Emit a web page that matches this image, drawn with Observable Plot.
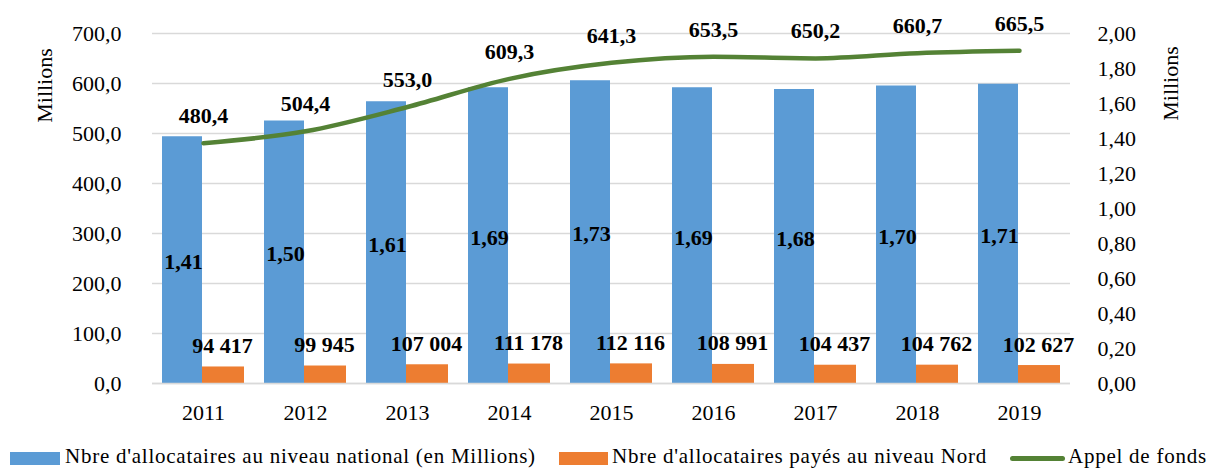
<!DOCTYPE html>
<html><head><meta charset="utf-8">
<script src="https://cdn.jsdelivr.net/npm/d3@7"></script>
<script src="https://cdn.jsdelivr.net/npm/@observablehq/plot@0.6"></script>
<style>
body{margin:0;background:#fff;}
#wrap{position:relative;width:1210px;height:468px;overflow:hidden;font-family:"Liberation Serif","Times New Roman",serif;background:#fff;}
#wrap svg text{font-family:"Liberation Serif","Times New Roman",serif;}
.sw{position:absolute;}
.lt{position:absolute;font-size:21px;line-height:21px;letter-spacing:0.75px;white-space:nowrap;color:#000;}
</style></head><body><div id="wrap"></div>
<script>
const years = ["2011","2012","2013","2014","2015","2016","2017","2018","2019"];
const national = [1.41, 1.50, 1.61, 1.69, 1.73, 1.69, 1.68, 1.70, 1.71];
const nord = [94417, 99945, 107004, 111178, 112116, 108991, 104437, 104762, 102627];
const appel = [480.4, 504.4, 553.0, 609.3, 641.3, 653.5, 650.2, 660.7, 665.5];
const leftTicks = [0, 100, 200, 300, 400, 500, 600, 700];
const rightTicks = [0, 0.2, 0.4, 0.6, 0.8, 1.0, 1.2, 1.4, 1.6, 1.8, 2.0];
const seriesNames = ["Nbre d'allocataires au niveau national (en Millions)", "Nbre d'allocataires payés au niveau Nord", "Appel de fonds"];
const colors = ["#5B9BD5", "#ED7D31", "#548235"];

const ratio = 700 / 2; // right axis (0–2,00) onto left axis (0–700,0)
const rows = years.map((y, i) => ({year: y, national: national[i], nord: nord[i], appel: appel[i]}));
const dec = (v, n) => v.toFixed(n).replace(".", ",");
const fr = d3.formatLocale({decimal: ",", thousands: " ", grouping: [3], currency: ["", " €"]});
const fmtInt = fr.format(",d");
const font = "'Liberation Serif','Times New Roman',serif";

const plot = Plot.plot({
  width: 1210, height: 440,
  marginLeft: 152, marginRight: 140, marginTop: 33, marginBottom: 57,
  style: {fontFamily: font, fontSize: "22px", color: "#000", background: "#fff"},
  x: {domain: years, padding: 0, label: null},
  y: {domain: [0, 700], label: null},
  marks: [
    Plot.gridY(leftTicks, {stroke: "#d9d9d9", strokeOpacity: 1, strokeWidth: 1.5}),
    Plot.barY(rows, {x: "year", y: d => d.national * ratio, fill: colors[0], insetLeft: 10, insetRight: 52}),
    Plot.barY(rows, {x: "year", y: d => d.nord / 1e6 * ratio, fill: colors[1], insetLeft: 50, insetRight: 10}),
    Plot.ruleY([0], {stroke: "#d9d9d9", strokeWidth: 1.5}),
    Plot.line(rows, {x: "year", y: "appel", stroke: colors[2], strokeWidth: 4.5, curve: "monotone-x", strokeLinecap: "round", strokeLinejoin: "round"}),
    Plot.axisY(leftTicks, {anchor: "left", tickSize: 0, tickPadding: 31, tickFormat: d => dec(d, 1), label: null, fontSize: 22}),
    Plot.axisY(rightTicks.map(t => t * ratio), {anchor: "right", tickSize: 0, tickPadding: 27, tickFormat: d => dec(d / ratio, 2), label: null, fontSize: 22}),
    Plot.axisX({tickSize: 0, tickPadding: 21, label: null, fontSize: 22}),
    Plot.text(rows, {x: "year", y: "appel", text: d => dec(d.appel, 1), dy: -27, fontWeight: "bold", fontSize: 22, fill: "#000"}),
    Plot.text(rows, {x: "year", y: d => d.national * ratio / 2, text: d => dec(d.national, 2), dx: -20, dy: 2, fontWeight: "bold", fontSize: 22, fill: "#000"}),
    Plot.text(rows, {x: "year", y: d => d.nord / 1e6 * ratio, text: d => fmtInt(d.nord), dx: 19, dy: -21, fontWeight: "bold", fontSize: 22, fill: "#000"}),
    Plot.text(["Millions"], {frameAnchor: "top-left", textAnchor: "middle", lineAnchor: "middle", rotate: -90, dx: -108, dy: 52, fontSize: 22, fill: "#000"}),
    Plot.text(["Millions"], {frameAnchor: "top-right", textAnchor: "middle", lineAnchor: "middle", rotate: -90, dx: 100, dy: 50, fontSize: 22, fill: "#000"})
  ]
});

const wrap = document.getElementById("wrap");
wrap.appendChild(plot);
plot.style.position = "absolute"; plot.style.left = "0"; plot.style.top = "0";

const legend = [
  {sw: {left: 10, top: 452, width: 50, height: 13}, text: 65},
  {sw: {left: 559, top: 452, width: 49, height: 13}, text: 612},
  {sw: {left: 1010, top: 456, width: 55, height: 5, radius: 3}, text: 1068}
];
legend.forEach((l, i) => {
  const s = document.createElement("div");
  s.className = "sw";
  Object.assign(s.style, {left: l.sw.left + "px", top: l.sw.top + "px", width: l.sw.width + "px", height: l.sw.height + "px", background: colors[i], borderRadius: (l.sw.radius || 0) + "px"});
  wrap.appendChild(s);
  const t = document.createElement("div");
  t.className = "lt";
  t.textContent = seriesNames[i];
  Object.assign(t.style, {left: l.text + "px", top: "446px"});
  wrap.appendChild(t);
});
</script></body></html>
